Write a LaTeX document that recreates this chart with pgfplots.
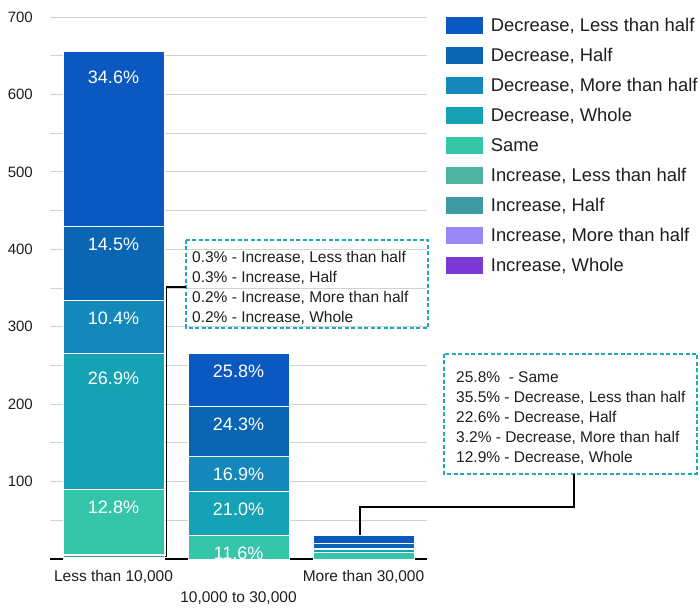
\documentclass[border=0pt]{standalone}
\usepackage{pgfplots}
\pgfplotsset{compat=1.18}
\usepackage{fontspec}
\setmainfont{Liberation Sans}

\definecolor{decLess}{RGB}{10,88,192}
\definecolor{decHalf}{RGB}{10,102,178}
\definecolor{decMore}{RGB}{20,136,186}
\definecolor{decWhole}{RGB}{22,162,181}
\definecolor{same}{RGB}{53,198,170}
\definecolor{incLess}{RGB}{77,178,159}
\definecolor{incHalf}{RGB}{62,155,162}
\definecolor{incMore}{RGB}{154,135,248}
\definecolor{incWhole}{RGB}{123,56,212}
\definecolor{gridgray}{RGB}{210,210,210}
\definecolor{txt}{RGB}{30,30,30}
\definecolor{baseline}{RGB}{51,51,51}
\definecolor{calloutborder}{RGB}{33,169,184}

% a label that sits a little lower in its (tall) segment
\DeclareRobustCommand{\low}[1]{\vrule height 20pt width 0pt\relax #1}

\pgfplotsset{
  seg/.style={fill=#1, draw=white, line width=0.9pt},
  swatch/.style={legend image code/.code={%
      \fill[##1] (0pt,-9pt) rectangle (38pt,9pt);
      \path (45pt,0pt);}},
  % segment labels sit just below the top edge of their segment
  % (pgfplots puts them at the middle; half a segment is rawy*0.387143pt)
  labelled/.style={nodes near coords, point meta=explicit symbolic,
    visualization depends on={rawy \as \segval},
    every node near coord/.append style={anchor=north,
      yshift={\segval*0.387143pt-11pt},
      inner sep=0pt, text=white, font=\fontsize{18}{18}\selectfont}},
}

\begin{document}
\begin{tikzpicture}
\useasboundingbox (0,0) rectangle (700pt,610pt);
\begin{axis}[
  at={(50pt,51pt)}, anchor=south west,
  scale only axis, width=377pt, height=542pt,
  ybar stacked, bar width=101pt,
  swatch,
  xmin=-0.508, xmax=2.508,
  ymin=0, ymax=700,
  xtick={0,2}, xticklabels={Less than 10{,}000, More than 30{,}000},
  extra x ticks={1}, extra x tick labels={10{,}000 to 30{,}000},
  extra x tick style={grid=none, xticklabel style={yshift=-21pt}},
  ytick={100,200,...,700},
  minor ytick={50,150,...,650},
  ymajorgrids, yminorgrids,
  major grid style={gridgray, line width=0.9pt},
  minor grid style={gridgray, line width=0.9pt},
  axis line style={draw=none},
  major tick length=0pt, minor tick length=0pt,
  tick style={draw=none},
  /pgf/number format/assume math mode=true,
  yticklabel style={font=\fontsize{15}{15}\selectfont, text=txt, inner sep=0pt, xshift=-17pt},
  xticklabel style={font=\fontsize{15.5}{16}\selectfont, text=txt, inner sep=0pt, anchor=north, yshift=-11pt},
  clip=false,
  reverse legend,
  legend cell align=left,
  legend style={at={(1.0477,1.0018)}, anchor=north west, draw=none, fill=none,
    inner sep=0pt, outer sep=0pt, row sep=11.1pt,
    font=\fontsize{18.4}{18.4}\selectfont, text=txt,
    nodes={inner sep=0pt, text height=13pt, text depth=0pt}},
]
% stacked from the bottom up: increases, same, decreases
\addplot[seg=incWhole] coordinates {(0,1) (1,0) (2,0)};
\addlegendentry{Increase, Whole}
\addplot[seg=incMore] coordinates {(0,1) (1,0) (2,0)};
\addlegendentry{Increase, More than half}
\addplot[seg=incHalf] coordinates {(0,2) (1,0) (2,0)};
\addlegendentry{Increase, Half}
\addplot[seg=incLess] coordinates {(0,2) (1,0) (2,0)};
\addlegendentry{Increase, Less than half}
\addplot[seg=same, labelled] coordinates {(0,84) [12.8\%] (1,31) [11.6\%] (2,8) []};
\addlegendentry{Same}
\addplot[seg=decWhole, labelled] coordinates {(0,176) [\low{26.9\%}] (1,56) [21.0\%] (2,4) []};
\addlegendentry{Decrease, Whole}
\addplot[seg=decMore, labelled] coordinates {(0,68) [10.4\%] (1,45) [16.9\%] (2,1) []};
\addlegendentry{Decrease, More than half}
\addplot[seg=decHalf, labelled] coordinates {(0,95) [14.5\%] (1,65) [24.3\%] (2,7) []};
\addlegendentry{Decrease, Half}
\addplot[seg=decLess, labelled] coordinates {(0,226) [\low{34.6\%}] (1,69) [25.8\%] (2,11) []};
\addlegendentry{Decrease, Less than half}

% category axis line
\draw[baseline, line width=1.2pt] (rel axis cs:0,0) -- (rel axis cs:1,0);

% callout for the small increase shares of the first bar
\draw[black, line width=1.1pt] (axis cs:0.58,351.3) -- (axis cs:0.4256,351.3)
  -- (axis cs:0.4256,3.0) -- (axis cs:0.284,3.0);
\draw[calloutborder, line width=1.1pt, dash pattern=on 4pt off 2.5pt]
  (axis cs:0.58,412.0) rectangle (axis cs:2.516,298.3);
\node[anchor=north west, inner sep=0pt, align=left, text=txt,
  font=\fontsize{15.5}{20}\selectfont] at (axis cs:0.628,397.8)
  {0.3\% - Increase, Less than half\\
   0.3\% - Increase, Half\\
   0.2\% - Increase, More than half\\
   0.2\% - Increase, Whole};

% callout for the third bar
\draw[black, line width=1.1pt] (axis cs:3.684,109.8) -- (axis cs:3.684,67.2)
  -- (axis cs:1.972,67.2) -- (axis cs:1.972,25.8);
\draw[calloutborder, line width=1.1pt, dash pattern=on 4pt off 2.5pt]
  (axis cs:2.644,264.8) rectangle (axis cs:4.668,109.8);
\node[anchor=north west, inner sep=0pt, align=left, text=txt,
  font=\fontsize{15.5}{20}\selectfont] at (axis cs:2.74,242.8)
  {25.8\%~ - Same\\
   35.5\% - Decrease, Less than half\\
   22.6\% - Decrease, Half\\
   3.2\% - Decrease, More than half\\
   12.9\% - Decrease, Whole};
\end{axis}
\end{tikzpicture}
\end{document}
